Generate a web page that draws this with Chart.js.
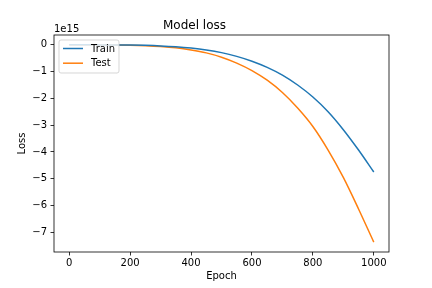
<!DOCTYPE html>
<html><head><meta charset="utf-8">
<script src="https://cdn.jsdelivr.net/npm/chart.js@4/dist/chart.umd.min.js"></script>
<style>html,body{margin:0;padding:0;background:#fff}canvas{display:block}</style>
</head><body>
<canvas id="c" width="432" height="288"></canvas>
<script>
const epochs = [0,50,100,150,200,250,300,350,400,450,500,550,600,650,700,750,800,850,900,950,1000];
const trainLoss = [0,-0.0001e15,-0.0005e15,-0.0024e15,-0.0076e15,-0.019e15,-0.039e15,-0.071e15,-0.12e15,-0.19e15,-0.29e15,-0.43e15,-0.61e15,-0.84e15,-1.13e15,-1.50e15,-1.95e15,-2.50e15,-3.17e15,-3.93e15,-4.75e15];
const testLoss = [0,-0.0001e15,-0.0007e15,-0.0037e15,-0.012e15,-0.029e15,-0.06e15,-0.11e15,-0.19e15,-0.30e15,-0.46e15,-0.68e15,-0.96e15,-1.32e15,-1.78e15,-2.36e15,-3.05e15,-3.93e15,-4.95e15,-6.13e15,-7.37e15];
const seriesNames = ['Train','Test'];
const seriesColors = ['#1f77b4','#ff7f0e'];
const xTicks = [0,200,400,600,800,1000];
const yTicks = [0,-1e15,-2e15,-3e15,-4e15,-5e15,-6e15,-7e15];
const yScaleFactor = 1e15;
const offsetText = '1e15';
const titleText = 'Model loss';
const xLabel = 'Epoch';
const yLabel = 'Loss';

const FONT = 'DejaVu Sans';
Chart.defaults.font.family = FONT;
Chart.defaults.color = '#000';

const allY = trainLoss.concat(testLoss);
const yLo = Math.min(...allY), yHi = Math.max(...allY);
const yPad = (yHi - yLo) * 0.05;
const xLo = Math.min(...epochs), xHi = Math.max(...epochs);
const xPad = (xHi - xLo) * 0.05;

const mplPlugin = {
  id: 'mpl',
  afterDatasetsDraw(chart) {
    const ctx = chart.ctx, a = chart.chartArea;
    ctx.save();
    // axes frame
    ctx.strokeStyle = '#000';
    ctx.lineWidth = 0.8;
    ctx.strokeRect(a.left, a.top, a.right - a.left, a.bottom - a.top);
    // offset text
    ctx.font = '10px "' + FONT + '"';
    ctx.fillStyle = '#000';
    ctx.textAlign = 'left';
    ctx.textBaseline = 'alphabetic';
    ctx.fillText(offsetText, a.left, 32);
    // legend
    const ds = chart.data.datasets;
    const bx = a.left + 5, by = a.top + 5;
    const tw = Math.max(...ds.map(d => ctx.measureText(d.label).width));
    const w = 4 + 20 + 8 + tw + 4, h = 33;
    ctx.beginPath();
    if (ctx.roundRect) ctx.roundRect(bx, by, w, h, 2); else ctx.rect(bx, by, w, h);
    ctx.fillStyle = 'rgba(255,255,255,0.8)';
    ctx.fill();
    ctx.strokeStyle = 'rgba(204,204,204,0.8)';
    ctx.lineWidth = 1;
    ctx.stroke();
    ds.forEach((d, i) => {
      const yy = by + 8.5 + i * 14.7;
      ctx.beginPath();
      ctx.moveTo(bx + 4, yy);
      ctx.lineTo(bx + 24, yy);
      ctx.strokeStyle = d.borderColor;
      ctx.lineWidth = 1.5;
      ctx.stroke();
      ctx.fillStyle = '#000';
      ctx.textBaseline = 'middle';
      ctx.fillText(d.label, bx + 32, yy + 0.5);
    });
    ctx.restore();
  }
};

new Chart(document.getElementById('c'), {
  type: 'line',
  data: {
    datasets: [
      { label: seriesNames[0], data: epochs.map((e, i) => ({x: e, y: trainLoss[i]})), borderColor: seriesColors[0], backgroundColor: seriesColors[0], borderWidth: 1.5, pointRadius: 0, cubicInterpolationMode: 'monotone', fill: false },
      { label: seriesNames[1], data: epochs.map((e, i) => ({x: e, y: testLoss[i]})), borderColor: seriesColors[1], backgroundColor: seriesColors[1], borderWidth: 1.5, pointRadius: 0, cubicInterpolationMode: 'monotone', fill: false }
    ]
  },
  options: {
    responsive: false,
    animation: false,
    devicePixelRatio: 1,
    layout: { padding: { left: 0, right: 43, top: 0, bottom: 0 } },
    plugins: {
      legend: { display: false },
      tooltip: { enabled: false },
      title: { display: true, text: titleText, font: { size: 12, weight: 'normal' }, color: '#000', padding: { top: 18.8, bottom: 1.8 } }
    },
    scales: {
      x: {
        type: 'linear', min: xLo - xPad, max: xHi + xPad,
        afterBuildTicks(s) { s.ticks = xTicks.map(v => ({value: v})); },
        afterFit(s) { s.height = 36; },
        grid: { display: true, drawOnChartArea: false, drawTicks: true, tickLength: 3.5, tickWidth: 0.8, tickColor: '#000' },
        border: { display: false },
        ticks: { font: { size: 10 }, color: '#000', padding: 2, maxRotation: 0, callback: v => String(v) },
        title: { display: true, text: xLabel, font: { size: 10 }, color: '#000', padding: { top: 0, bottom: 5.5 } }
      },
      y: {
        type: 'linear', min: yLo - yPad, max: yHi + yPad,
        afterBuildTicks(s) { s.ticks = yTicks.map(v => ({value: v})); },
        afterFit(s) { s.width = 54; },
        grid: { display: true, drawOnChartArea: false, drawTicks: true, tickLength: 3.5, tickWidth: 0.8, tickColor: '#000' },
        border: { display: false },
        ticks: { font: { size: 10 }, color: '#000', padding: 3.5, callback: v => { const n = Math.round(v / yScaleFactor); return n < 0 ? '\u2212' + Math.abs(n) : String(n); } },
        title: { display: true, text: yLabel, font: { size: 10 }, color: '#000', padding: { top: 16, bottom: 0 } }
      }
    }
  },
  plugins: [mplPlugin]
});
</script>
</body></html>
